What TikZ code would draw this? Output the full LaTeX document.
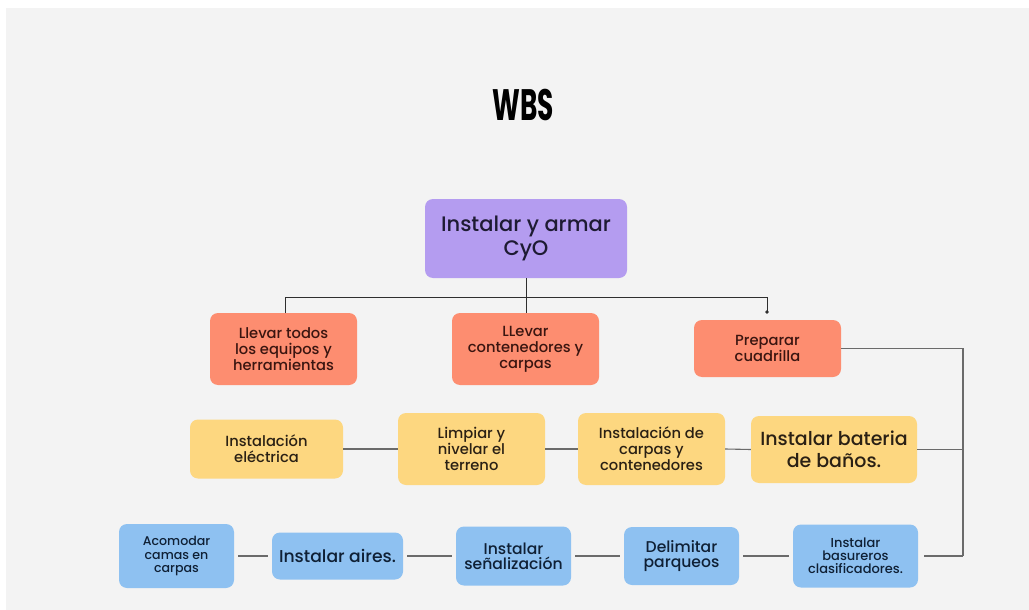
\documentclass[tikz,border=0pt]{standalone}
\usepackage{fontspec}
\setmainfont{Poppins}[UprightFont=* Medium, BoldFont=* Bold]
\usetikzlibrary{arrows.meta}
\definecolor{panel}{HTML}{F3F3F3}
\definecolor{lilac}{HTML}{B49CF0}
\definecolor{salmon}{HTML}{FD8D70}
\definecolor{sand}{HTML}{FDD780}
\definecolor{sky}{HTML}{8EC1F1}
\definecolor{inkA}{HTML}{1E1B33}
\definecolor{inkO}{HTML}{3A1510}
\definecolor{inkY}{HTML}{2A2014}
\definecolor{inkB}{HTML}{0F2035}
\definecolor{busline}{HTML}{2E2E2E}
\definecolor{rowline}{HTML}{6A6A6A}
\tikzset{
  card/.style={rounded corners=8pt, align=center, inner sep=2pt},
  rootcard/.style={card, fill=lilac, text=inkA, font=\fontsize{21}{24}\selectfont},
  orangecard/.style={card, fill=salmon, text=inkO, font=\fontsize{14.7}{16}\selectfont},
  yellowcard/.style={card, fill=sand, text=inkY, font=\fontsize{14.7}{16}\selectfont},
  bluecard/.style={card, fill=sky, text=inkB},
  bus/.style={draw=busline, line width=0.9pt},
  rowlink/.style={draw=rowline, line width=1.1pt},
  gapped/.style={rowlink, shorten <=4pt, shorten >=4pt},
}
\begin{document}
\begin{tikzpicture}[x=1pt, y=-1pt]
\useasboundingbox (0,0) rectangle (1029,610);
\fill[white] (0,0) rectangle (1029,610);
\fill[panel] (6,8) rectangle (1029,610);

% title
\node (title) at (523,105) {\scalebox{0.6}[1]{\fontsize{44}{44}\selectfont\bfseries WBS}};

% root
\node[rootcard, minimum width=202pt, minimum height=79pt] (root) at (526,238.5) {Instalar y armar\\CyO};

% first level
\node[orangecard, minimum width=147pt, minimum height=72pt] (o1) at (283.5,349) {Llevar todos\\los equipos y\\herramientas};
\node[orangecard, minimum width=147pt, minimum height=72pt] (o2) at (525.5,349) {LLevar\\contenedores y\\carpas};
\node[orangecard, minimum width=147pt, minimum height=57pt] (o3) at (767.5,348.5) {Preparar\\cuadrilla};

% second row
\node[yellowcard, minimum width=153pt, minimum height=59pt] (y1) at (266.5,449) {Instalación\\eléctrica};
\node[yellowcard, minimum width=147pt, minimum height=72pt] (y2) at (471.5,449) {Limpiar y\\nivelar el\\terreno};
\node[yellowcard, minimum width=147pt, minimum height=72pt] (y3) at (651.5,449) {Instalación de\\carpas y\\contenedores};
\node[yellowcard, minimum width=166pt, minimum height=67pt, font=\fontsize{19}{22}\selectfont] (y4) at (834,449.5) {Instalar bateria\\de baños.};

% third row
\node[bluecard, minimum width=115pt, minimum height=64pt, font=\fontsize{12.6}{13.5}\selectfont] (b1) at (176.5,556) {Acomodar\\camas en\\carpas};
\node[bluecard, minimum width=131pt, minimum height=47pt, font=\fontsize{17.2}{18}\selectfont] (b2) at (337.5,556) {Instalar aires.};
\node[bluecard, minimum width=115pt, minimum height=59pt, font=\fontsize{15.6}{15}\selectfont] (b3) at (513.5,556) {Instalar\\señalización};
\node[bluecard, minimum width=115pt, minimum height=58pt, font=\fontsize{15.6}{15}\selectfont] (b4) at (681.5,556) {Delimitar\\parqueos};
\node[bluecard, minimum width=125pt, minimum height=63pt, font=\fontsize{13}{13}\selectfont] (b5) at (855.5,556) {Instalar\\basureros\\clasificadores.};

% bus below the root
\coordinate (busL) at (285,297);
\coordinate (busM) at (526,297);
\coordinate (busR) at (767,297);
\draw[bus] (root.south) -- (busM);
\draw[bus] (busL) -- (busR);
\draw[bus] (busL) -- (busL |- o1.north);
\draw[bus] (busM) -- (busM |- o2.north);
\draw[bus, -{Circle[length=3.5pt]}, shorten >=6pt] (busR) -- (busR |- o3.north);

% right-hand spine
\coordinate (spineT) at (963,348.5);
\coordinate (spineB) at (963,556);
\draw[rowlink] (o3.east) -- (spineT) -- (spineB);
\draw[rowlink] (y4.east) -- (y4.east -| spineT);
\draw[rowlink, shorten <=6pt] (b5.east) -- (spineB);

% second row links
\draw[rowlink] (y1.east) -- (y2.west);
\draw[rowlink] (y2.east) -- (y3.west);
\draw[rowlink] (y3.east) -- (y4.west);

% third row links
\draw[gapped] (b1.east) -- (b2.west);
\draw[gapped] (b2.east) -- (b3.west);
\draw[gapped] (b3.east) -- (b4.west);
\draw[gapped] (b4.east) -- (b5.west);
\end{tikzpicture}
\end{document}
